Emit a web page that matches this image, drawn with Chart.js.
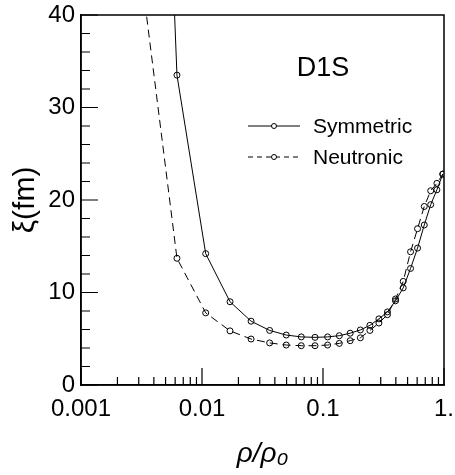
<!DOCTYPE html>
<html>
<head>
<meta charset="utf-8">
<script src="https://cdn.jsdelivr.net/npm/chart.js@4.4.1/dist/chart.umd.min.js"></script>
<style>
  html, body { margin: 0; padding: 0; background: #fff; }
</style>
</head>
<body>
<canvas id="chart" width="455" height="475"></canvas>
<script>
// rho/rho0 values (same grid for both curves)
const density = [0.00318, 0.00621, 0.01073, 0.01704, 0.02544, 0.03623, 0.04969, 0.06614,
  0.08587, 0.10918, 0.13636, 0.16771, 0.20354, 0.24414, 0.28981, 0.34084, 0.39754,
  0.46021, 0.52913, 0.60461, 0.68694, 0.77645, 0.87340, 0.97811];
// coherence length xi (fm)
const symmetric = [130, 33.5, 14.2, 9.0, 6.9, 5.9, 5.4, 5.2, 5.15, 5.2, 5.33, 5.6, 5.95,
  6.45, 7.15, 7.9, 9.1, 10.5, 12.6, 14.8, 17.3, 19.5, 21.1, 22.8];
const neutronic = [44, 13.7, 7.8, 5.85, 4.97, 4.55, 4.32, 4.25, 4.25, 4.32, 4.5, 4.79, 5.1,
  5.9, 6.7, 7.6, 9.3, 11.2, 14.4, 16.9, 19.3, 21.0, 21.8, 22.8];
const seriesNames = ['Symmetric', 'Neutronic'];
const xTickValues = [0.001, 0.01, 0.1, 1];
const xTickLabels = ['0.001', '0.01', '0.1', '1.'];
const yTickLabels = [0, 10, 20, 30, 40];
const panelLabel = 'D1S';

const FONT = "'Liberation Sans', Arial, sans-serif";

const toPoints = (ys) => density.map((x, i) => ({ x: x, y: ys[i] }));

// all minor positions 2..9 per decade, plus decades
const xMinor = [];
for (let d = 0; d < xTickValues.length - 1; d++) {
  for (let m = 1; m <= 9; m++) xMinor.push(xTickValues[d] * m);
}
xMinor.push(xTickValues[xTickValues.length - 1]);

const frame = {
  id: 'frame',
  afterDraw(chart) {
    const { ctx, chartArea: a, scales } = chart;
    ctx.save();
    ctx.strokeStyle = '#000';
    ctx.lineWidth = 1.5;
    ctx.strokeRect(a.left, a.top, a.right - a.left, a.bottom - a.top);

    ctx.lineWidth = 1.2;
    ctx.beginPath();
    scales.x.ticks.forEach(t => {
      const px = scales.x.getPixelForValue(t.value);
      const major = xTickValues.some(v => Math.abs(v - t.value) / v < 1e-6);
      ctx.moveTo(px, a.bottom);
      ctx.lineTo(px, a.bottom - (major ? 17 : 8));
    });
    scales.y.ticks.forEach(t => {
      const py = scales.y.getPixelForValue(t.value);
      const major = yTickLabels.includes(t.value);
      ctx.moveTo(a.left, py);
      ctx.lineTo(a.left + (major ? 17 : 9), py);
    });
    ctx.stroke();

    // panel label
    ctx.fillStyle = '#000';
    ctx.font = '27px ' + FONT;
    ctx.textAlign = 'center';
    ctx.textBaseline = 'middle';
    ctx.fillText(panelLabel, a.left + 242, a.top + 54);

    // legend
    ctx.font = '21px ' + FONT;
    ctx.textAlign = 'left';
    chart.data.datasets.forEach((ds, i) => {
      const y = a.top + 111 + i * 31;
      const x0 = a.left + 167, x1 = a.left + 219;
      ctx.strokeStyle = '#000';
      ctx.lineWidth = 1;
      ctx.setLineDash(i === 0 ? [] : [5, 4]);
      ctx.beginPath();
      ctx.moveTo(x0, y); ctx.lineTo(x1, y);
      ctx.stroke();
      ctx.setLineDash([]);
      ctx.beginPath();
      ctx.fillStyle = '#fff';
      ctx.arc((x0 + x1) / 2, y, 2.5, 0, Math.PI * 2);
      ctx.fill();
      ctx.stroke();
      ctx.fillStyle = '#000';
      ctx.fillText(ds.label, a.left + 232, y + 1);
    });
    ctx.restore();
  }
};

new Chart(document.getElementById('chart'), {
  type: 'line',
  data: {
    datasets: [
      {
        label: seriesNames[0],
        data: toPoints(symmetric),
        borderColor: '#000',
        borderWidth: 1,
        pointRadius: 3,
        pointBorderWidth: 1,
        pointBorderColor: '#000',
        pointBackgroundColor: 'rgba(0,0,0,0)',
        tension: 0
      },
      {
        label: seriesNames[1],
        data: toPoints(neutronic),
        borderColor: '#000',
        borderWidth: 1,
        borderDash: [8, 5],
        pointRadius: 3,
        pointBorderWidth: 1,
        pointBorderColor: '#000',
        pointBackgroundColor: 'rgba(0,0,0,0)',
        tension: 0
      }
    ]
  },
  options: {
    responsive: false,
    animation: false,
    devicePixelRatio: 1,
    layout: { padding: { top: 15, right: 11, left: 0, bottom: 0 } },
    plugins: { legend: { display: false }, tooltip: { enabled: false } },
    scales: {
      x: {
        type: 'logarithmic',
        min: 0.001,
        max: 1,
        afterBuildTicks: (s) => { s.ticks = xMinor.map(v => ({ value: v })); },
        afterFit: (s) => { s.height = 90; s.paddingLeft = 0; s.paddingRight = 0; },
        grid: { display: true, drawOnChartArea: false, drawTicks: false, color: '#000' },
        border: { color: '#000', width: 1.5 },
        ticks: {
          autoSkip: false,
          maxRotation: 0,
          padding: 10,
          color: '#000',
          font: { family: FONT, size: 24 },
          callback: (v) => {
            const i = xTickValues.findIndex(t => Math.abs(t - v) / t < 1e-6);
            return i >= 0 ? xTickLabels[i] : '';
          }
        },
        title: {
          display: true,
          text: 'ρ/ρ₀',
          color: '#000',
          font: { family: FONT, size: 28, style: 'italic' },
          padding: { top: 0, bottom: 4 }
        }
      },
      y: {
        min: 0,
        max: 40,
        afterFit: (s) => { s.width = 81; s.paddingTop = 0; s.paddingBottom = 0; },
        grid: { display: true, drawOnChartArea: false, drawTicks: false, color: '#000' },
        border: { color: '#000', width: 1.5 },
        ticks: {
          stepSize: 2,
          autoSkip: false,
          padding: 6,
          color: '#000',
          font: { family: FONT, size: 24 },
          callback: (v) => (yTickLabels.includes(v) ? String(v) : '')
        },
        title: {
          display: true,
          text: 'ξ(fm)',
          color: '#000',
          font: { family: FONT, size: 30 },
          padding: { top: 8, bottom: 0 }
        }
      }
    }
  },
  plugins: [frame]
});
</script>
</body>
</html>
